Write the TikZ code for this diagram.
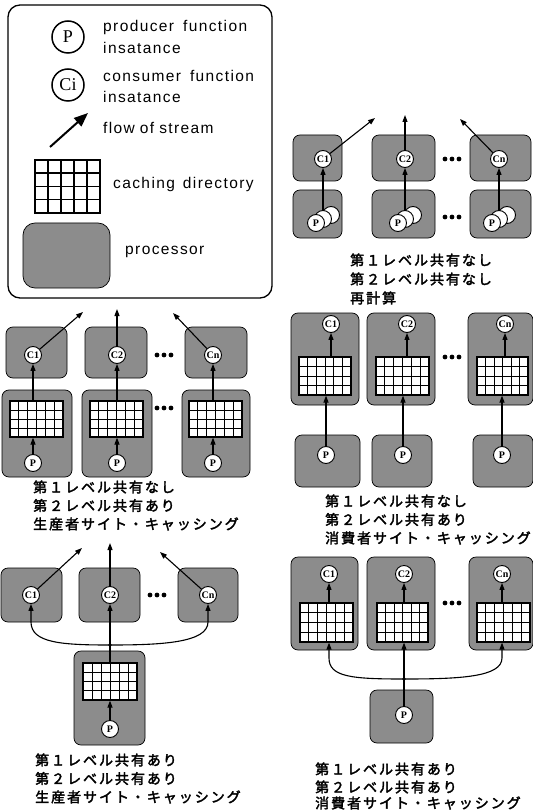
\documentclass[tikz,border=0pt]{standalone}
\usepackage{fontspec}
\setmainfont{Liberation Serif}
\newfontfamily\legfont[LetterSpace=9]{Liberation Sans}
\newfontfamily\jpfont[LetterSpace=14, AutoFakeBold=2.5]{Noto Sans CJK JP}
\usetikzlibrary{arrows.meta,calc,fit}
\tikzset{
  proc/.style={draw=black, line width=0.7pt, fill=black!45, rounded corners=7pt},
  fn/.style={circle, draw=black, line width=0.9pt, fill=white, minimum size=17pt, inner sep=0pt, font=\fontsize{10}{10}\selectfont\bfseries},
  legfn/.style={circle, draw=black, line width=1.5pt, fill=white, minimum size=32pt, inner sep=0pt, font=\fontsize{18}{18}\selectfont},
  flow/.style={line width=1.1pt, -{Triangle[length=7pt,width=5pt]}},
  link/.style={line width=1.1pt},
  jp/.style={anchor=west, inner sep=0pt, font=\jpfont\bfseries\fontsize{14}{16}\selectfont},
  leg/.style={anchor=west, inner sep=0pt, font=\legfont\fontsize{15.5}{16}\selectfont},
  cgrid/.style n args={3}{draw=black, line width=1.2pt, fill=white, inner sep=0pt, path picture={
    \coordinate (gsw) at (path picture bounding box.south west);
    \coordinate (gne) at (path picture bounding box.north east);
    \foreach \i in {1,...,#1}{\draw[line width=#3] ($(gsw)!\i/#1!(gsw-|gne)$) -- ($(gsw|-gne)!\i/#1!(gne)$);}
    \foreach \j in {1,...,#2}{\draw[line width=#3] ($(gsw)!\j/#2!(gsw|-gne)$) -- ($(gsw-|gne)!\j/#2!(gne)$);}
  }},
  jdot/.style={fill=black},
}
\begin{document}
\begin{tikzpicture}[x=1pt,y=-1pt]
\useasboundingbox (0,0) rectangle (532,810);
\fill[white] (0,0) rectangle (532,810);

% ---------------- Legend ----------------
\draw[line width=1.3pt, rounded corners=12pt] (8,5) rectangle (272,298);
\node[legfn] (lp) at (68,37) {P};
\node[legfn] (lc) at (68,85) {Ci};
\node[leg] (lt1) at (103,27) {producer\hspace{9pt}function};
\node[leg] (lt2) at (103,48) {insatance};
\node[leg] (lt3) at (103,76) {consumer\hspace{9pt}function};
\node[leg] (lt4) at (103,97) {insatance};
\coordinate (la1) at (50,147);
\coordinate (la2) at (88,113);
\draw[line width=2pt, -{Triangle[length=14pt,width=11pt]}] (la1) -- (la2);
\node[leg] (lt5) at (103,128) {flow\hspace{5pt}of\hspace{5pt}stream};
\node[cgrid={5}{4}{1.5pt}, line width=1.6pt, fit={(35,160) (100,213)}] (lg) {};
\node[leg] (lt6) at (113,184) {caching\hspace{8pt}directory};
\path[proc, rounded corners=12pt] (23,223) rectangle (110,288);
\node[leg] (lt7) at (125,252) {processor};

% ---------------- Top right: recomputation ----------------
\path[proc] (293,135) rectangle (342,181);
\path[proc] (372,135) rectangle (435,181);
\path[proc] (470,135) rectangle (531,181);
\path[proc] (293,190) rectangle (342,238);
\path[proc] (372,190) rectangle (435,238);
\path[proc] (470,190) rectangle (531,238);
\node[fn] (a1) at (323,159) {C1};
\node[fn] (a2) at (405,159) {C2};
\node[fn] (a3) at (499,159) {Cn};
\foreach \n/\cx in {1/323,2/405,3/499}{
  \node[fn] (ap\n c) at (\cx+8,215) {};
  \node[fn] (ap\n b) at (\cx,219) {};
  \node[fn] (ap\n) at (\cx-7,223) {P};
}
\draw[flow] (ap1b) -- (a1);
\draw[flow] (ap2b) -- (a2);
\draw[flow] (ap3b) -- (a3);
\coordinate (at1) at (375,118);
\coordinate (at2) at (405,115);
\coordinate (at3) at (460,119);
\draw[flow] (a1) -- (at1);
\draw[flow] (a2) -- (at2);
\draw[flow] (a3) -- (at3);
\foreach \yy in {159,217}{\foreach \dx in {-7,0,7}{\fill[jdot] (452+\dx,\yy) circle (2.4);}}
\node[jp] (ta1) at (350,260) {第１レベル共有なし};
\node[jp] (ta2) at (350,279) {第２レベル共有なし};
\node[jp] (ta3) at (350,298) {再計算};

% ---------------- Middle left: producer-site caching ----------------
\path[proc] (6,327) rectangle (67,378);
\path[proc] (85,327) rectangle (147,378);
\path[proc] (185,327) rectangle (247,378);
\path[proc] (2,390) rectangle (72,477);
\path[proc] (82,390) rectangle (152,477);
\path[proc] (182,390) rectangle (250,477);
\node[cgrid={6}{4}{0.8pt}, fit={(10,401) (63,437)}] (bg1) {};
\node[cgrid={6}{4}{0.8pt}, fit={(90,401) (143,437)}] (bg2) {};
\node[cgrid={6}{4}{0.8pt}, fit={(189,401) (242,437)}] (bg3) {};
\node[fn] (b1) at (33,355) {C1};
\node[fn] (b2) at (117,355) {C2};
\node[fn] (b3) at (213,355) {Cn};
\node[fn] (bp1) at (33,463) {P};
\node[fn] (bp2) at (117,463) {P};
\node[fn] (bp3) at (213,463) {P};
\draw[flow] (bp1) -- (bp1 |- bg1.south);
\draw[flow] (bp2) -- (bp2 |- bg2.south);
\draw[flow] (bp3) -- (bp3 |- bg3.south);
\draw[flow] (b1 |- bg1.north) -- (b1);
\draw[flow] (b2 |- bg2.north) -- (b2);
\draw[flow] (b3 |- bg3.north) -- (b3);
\coordinate (bt1) at (83,312);
\coordinate (bt2) at (117,309);
\coordinate (bt3) at (173,313);
\draw[flow] (b1) -- (bt1);
\draw[flow] (b2) -- (bt2);
\draw[flow] (b3) -- (bt3);
\foreach \yy in {355,408}{\foreach \dx in {-7,0,7}{\fill[jdot] (164+\dx,\yy) circle (2.4);}}
\node[jp] (tb1) at (33,487) {第１レベル共有なし};
\node[jp] (tb2) at (33,505.5) {第２レベル共有あり};
\node[jp] (tb3) at (33,524) {生産者サイト・キャッシング};

% ---------------- Middle right: consumer-site caching ----------------
\path[proc] (291,313) rectangle (359,405);
\path[proc] (367,313) rectangle (435,405);
\path[proc] (468,313) rectangle (533,405);
\path[proc] (295,435) rectangle (360,487);
\path[proc] (372,435) rectangle (432,487);
\path[proc] (473,435) rectangle (533,487);
\node[cgrid={6}{4}{0.8pt}, fit={(299,357) (351,395)}] (cg1) {};
\node[cgrid={6}{4}{0.8pt}, fit={(376,357) (429,395)}] (cg2) {};
\node[cgrid={6}{4}{0.8pt}, fit={(477,357) (528,395)}] (cg3) {};
\node[fn] (c1) at (331,324) {C1};
\node[fn] (c2) at (407,324) {C2};
\node[fn] (c3) at (505,324) {Cn};
\node[fn] (cp1) at (326,455) {P};
\node[fn] (cp2) at (403,455) {P};
\node[fn] (cp3) at (502,455) {P};
\draw[flow] (cp1) -- (cp1 |- cg1.south);
\draw[flow] (cp2) -- (cp2 |- cg2.south);
\draw[flow] (cp3) -- (cp3 |- cg3.south);
\draw[flow] (c1 |- cg1.north) -- (c1);
\draw[flow] (c2 |- cg2.north) -- (c2);
\draw[flow] (c3 |- cg3.north) -- (c3);
\foreach \dx in {-7,0,7}{\fill[jdot] (452+\dx,357) circle (2.4);}
\node[jp] (tc1) at (325,501) {第１レベル共有なし};
\node[jp] (tc2) at (325,519.5) {第２レベル共有あり};
\node[jp] (tc3) at (325,538) {消費者サイト・キャッシング};

% ---------------- Bottom left: level-1 sharing, producer site ----------------
\path[proc] (1,568) rectangle (62,622);
\path[proc] (79,568) rectangle (140,622);
\path[proc] (178,568) rectangle (238,622);
\path[proc] (74,651) rectangle (145,745);
\node[cgrid={6}{4}{0.8pt}, fit={(83,663) (137,700)}] (dg) {};
\node[fn] (d1) at (31,595) {C1};
\node[fn] (d2) at (110,595) {C2};
\node[fn] (d3) at (208,595) {Cn};
\node[fn] (dp) at (110,729) {P};
\coordinate (dj) at (110,645);
\draw[flow] (dp) -- (dp |- dg.south);
\draw[link] (dp |- dg.north) -- (dj);
\draw[flow] (dj) -- (d2);
\draw[flow] (dj) .. controls (62,645) and (31,643) .. (31,622) -- (d1);
\draw[flow] (dj) .. controls (160,645) and (208,643) .. (208,622) -- (d3);
\fill[jdot] (dj) circle (1.8);
\coordinate (dt1) at (82,548);
\coordinate (dt2) at (110,543);
\coordinate (dt3) at (160,552);
\draw[flow] (d1) -- (dt1);
\draw[flow] (d2) -- (dt2);
\draw[flow] (d3) -- (dt3);
\foreach \dx in {-7,0,7}{\fill[jdot] (157+\dx,595) circle (2.4);}
\node[jp] (td1) at (35,760) {第１レベル共有あり};
\node[jp] (td2) at (35,778.5) {第２レベル共有あり};
\node[jp] (td3) at (35,797) {生産者サイト・キャッシング};

% ---------------- Bottom right: level-1 sharing, consumer site ----------------
\path[proc] (291,557) rectangle (358,650);
\path[proc] (367,557) rectangle (435,650);
\path[proc] (469,557) rectangle (533,650);
\path[proc] (370,690) rectangle (433,743);
\node[cgrid={6}{4}{0.8pt}, fit={(300,603) (353,642)}] (eg1) {};
\node[cgrid={6}{4}{0.8pt}, fit={(377,603) (428,642)}] (eg2) {};
\node[cgrid={6}{4}{0.8pt}, fit={(477,603) (530,642)}] (eg3) {};
\node[fn] (e1) at (329,574) {C1};
\node[fn] (e2) at (404,574) {C2};
\node[fn] (e3) at (502,574) {Cn};
\node[fn] (ep) at (404,715) {P};
\coordinate (ej) at (404,679);
\draw[link] (ep) -- (ej);
\draw[flow] (ej) -- (ej |- eg2.south);
\draw[flow] (ej) .. controls (352,679) and (329,677) .. (329,658) -- (e1 |- eg1.south);
\draw[flow] (ej) .. controls (460,679) and (502,677) .. (502,658) -- (e3 |- eg3.south);
\fill[jdot] (ej) circle (1.8);
\draw[flow] (e1 |- eg1.north) -- (e1);
\draw[flow] (e2 |- eg2.north) -- (e2);
\draw[flow] (e3 |- eg3.north) -- (e3);
\foreach \dx in {-7,0,7}{\fill[jdot] (452+\dx,603) circle (2.4);}
\node[jp] (te1) at (315,769) {第１レベル共有あり};
\node[jp] (te2) at (315,787) {第２レベル共有あり};
\node[jp] (te3) at (315,803) {消費者サイト・キャッシング};
\end{tikzpicture}
\end{document}
